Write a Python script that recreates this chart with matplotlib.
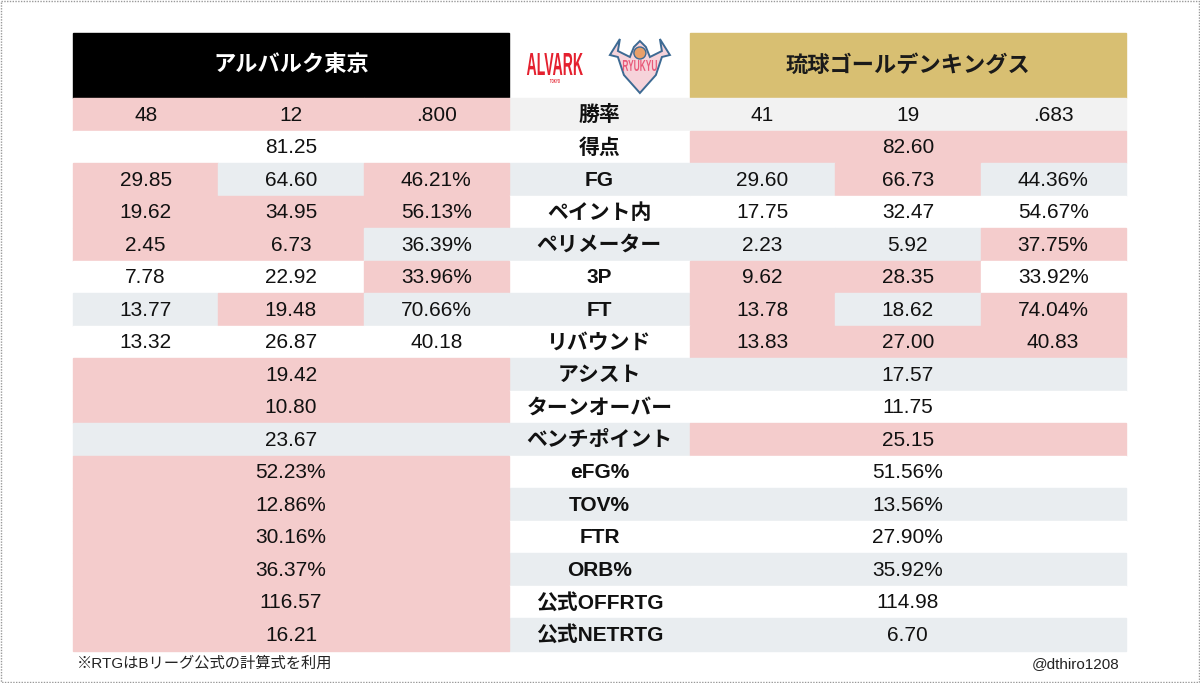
import matplotlib.pyplot as plt
from matplotlib.patches import Rectangle, Polygon, Circle, PathPatch
from matplotlib.textpath import TextPath
from matplotlib.font_manager import FontProperties
from matplotlib.transforms import Affine2D

plt.rcParams['font.family'] = ['Liberation Sans', 'Noto Sans CJK JP', 'DejaVu Sans']

# データ
team_left = 'アルバルク東京'
team_right = '琉球ゴールデンキングス'
labels = ['勝率', '得点', 'FG', 'ペイント内', 'ペリメーター', '3P', 'FT', 'リバウンド',
          'アシスト', 'ターンオーバー', 'ベンチポイント', 'eFG%', 'TOV%', 'FTR', 'ORB%',
          '公式OFFRTG', '公式NETRTG']
alvark = [['48', '12', '.800'], ['81.25'], ['29.85', '64.60', '46.21%'],
          ['19.62', '34.95', '56.13%'], ['2.45', '6.73', '36.39%'],
          ['7.78', '22.92', '33.96%'], ['13.77', '19.48', '70.66%'],
          ['13.32', '26.87', '40.18'], ['19.42'], ['10.80'], ['23.67'],
          ['52.23%'], ['12.86%'], ['30.16%'], ['36.37%'], ['116.57'], ['16.21']]
ryukyu = [['41', '19', '.683'], ['82.60'], ['29.60', '66.73', '44.36%'],
          ['17.75', '32.47', '54.67%'], ['2.23', '5.92', '37.75%'],
          ['9.62', '28.35', '33.92%'], ['13.78', '18.62', '74.04%'],
          ['13.83', '27.00', '40.83'], ['17.57'], ['11.75'], ['25.15'],
          ['51.56%'], ['13.56%'], ['27.90%'], ['35.92%'], ['114.98'], ['6.70']]
# 上回っている項目 (ピンク)
alvark_best = [[1, 1, 1], [0], [1, 0, 1], [1, 1, 1], [1, 1, 0], [0, 0, 1], [0, 1, 0],
               [0, 0, 0], [1], [1], [0], [1], [1], [1], [1], [1], [1]]
ryukyu_best = [[0, 0, 0], [1], [0, 1, 0], [0, 0, 0], [0, 0, 1], [1, 1, 0], [1, 0, 1],
               [1, 1, 1], [0], [0], [1], [0], [0], [0], [0], [0], [0]]
note = '※RTGはBリーグ公式の計算式を利用'
credit = '@dthiro1208'

# レイアウト
W, H = 1200, 683
x0, col_w, mid_w = 73, 145.3, 181
head_top, head_h = 33, 65
row_top, row_h = 98, 32.5
PINK = '#F4CCCC'
GRAY = '#E9EDF0'
GRAY0 = '#F2F2F2'
GOLD = '#D8BF72'

fig = plt.figure(figsize=(12, 6.83), dpi=100)
ax = fig.add_axes([0, 0, 1, 1])
ax.set_xlim(0, W)
ax.set_ylim(H, 0)
ax.axis('off')

left_x = x0
mid_x = x0 + 3 * col_w
right_x = mid_x + mid_w
side_w = 3 * col_w


def squeezed_text(s, left, bottom, width, height, color):
    # 縦長ロゴ文字用: 指定の幅と高さに引き伸ばした文字
    tp = TextPath((0, 0), s, size=1, prop=FontProperties(family='Liberation Sans',
                                                         weight='bold'))
    ext = tp.get_extents()
    tr = (Affine2D().translate(-ext.x0, -ext.y0)
          .scale(width / ext.width, -height / ext.height).translate(left, bottom))
    ax.add_patch(PathPatch(tr.transform_path(tp), facecolor=color, edgecolor='none'))


# ヘッダー
ax.add_patch(Rectangle((left_x, head_top), side_w, head_h, color='black'))
ax.add_patch(Rectangle((right_x, head_top), side_w, head_h, color=GOLD))
ax.text(left_x + side_w / 2, head_top + head_h / 2, team_left, color='white',
        fontsize=16, fontweight='bold', ha='center', va='center')
ax.text(right_x + side_w / 2, head_top + head_h / 2, team_right, color='#1a1a1a',
        fontsize=16, fontweight='bold', ha='center', va='center')

# ロゴ (簡易)
squeezed_text('ALVARK', mid_x + 18, head_top + 42, 56, 22, '#E4202E')
squeezed_text('TOKYO', mid_x + 41, head_top + 50, 10, 4, '#E4202E')
cx, cy = mid_x + 131, head_top + 30
wing = Polygon([(cx - 30, cy - 8), (cx - 20, cy - 24), (cx - 22, cy - 12), (cx - 10, cy - 6),
                (cx - 6, cy - 16), (cx, cy - 22), (cx + 6, cy - 16), (cx + 10, cy - 6),
                (cx + 22, cy - 12), (cx + 20, cy - 24), (cx + 30, cy - 8), (cx + 22, cy - 6),
                (cx + 16, cy + 12), (cx, cy + 30), (cx - 16, cy + 12), (cx - 22, cy - 6)],
               closed=True, facecolor='#F6D3DA', edgecolor='#3D6A93', linewidth=1.4)
ax.add_patch(wing)
ax.add_patch(Circle((cx, cy - 10), 6, facecolor='#E8A06A', edgecolor='#3D6A93',
                    linewidth=1))
squeezed_text('RYUKYU', cx - 17, cy + 8, 34, 11, '#E85A7A')

# 表本体
for i, lab in enumerate(labels):
    y = row_top + i * row_h
    yc = y + row_h / 2 + 1
    stripe = (GRAY0 if i == 0 else GRAY) if i % 2 == 0 else 'white'
    ax.add_patch(Rectangle((mid_x, y), mid_w, row_h, color=stripe))
    ax.text(mid_x + mid_w / 2, yc, lab, fontsize=15, fontweight='bold',
            ha='center', va='center', color='#111111')
    for base_x, vals, best in ((left_x, alvark[i], alvark_best[i]),
                               (right_x, ryukyu[i], ryukyu_best[i])):
        n = len(vals)
        w = side_w / n
        for j, v in enumerate(vals):
            fc = PINK if best[j] else stripe
            ax.add_patch(Rectangle((base_x + j * w, y), w, row_h, color=fc))
            ax.text(base_x + j * w + w / 2, yc, v, fontsize=15,
                    ha='center', va='center', color='#111111')

# 注記
ax.text(x0 + 4, 664, note, fontsize=11, ha='left', va='center', color='#222222')
ax.text(right_x + side_w - 6, 664, credit, fontsize=11, ha='right', va='center',
        color='#222222')

# 外枠
ax.add_patch(Rectangle((1, 1), W - 2, H - 2, fill=False, edgecolor='#999999',
                       linestyle=(0, (1, 1)), linewidth=1))

fig.savefig('out.png', dpi=100)
